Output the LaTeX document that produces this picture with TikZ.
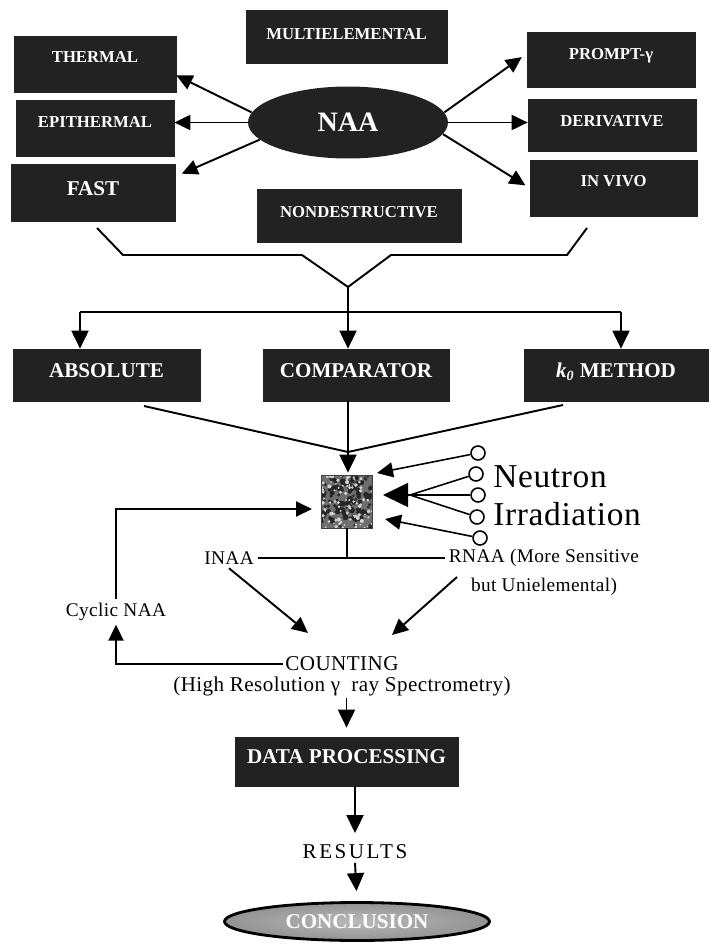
\documentclass[tikz,border=0pt]{standalone}
\usepackage{fontspec}
\setmainfont{Liberation Serif}
\newfontfamily\spaced[LetterSpace=2]{Liberation Serif}
\newfontfamily\widespaced[LetterSpace=12]{Liberation Serif}
\usepackage{xcolor}
\usepackage{tikz}
\usetikzlibrary{arrows.meta,shapes.geometric}
\definecolor{BoxInk}{HTML}{222222}
\definecolor{Grain}{HTML}{6e6e6e}

\tikzset{%
  tagbox/.style={draw=BoxInk, fill=BoxInk, text=white, inner sep=0pt, font=\fontsize{9.5}{11}\selectfont\bfseries, text height=0.2cm, text depth=0.2cm},%
  bigbox/.style={tagbox, font=\fontsize{12}{14}\selectfont\bfseries, text height=0.28cm, text depth=0.2cm},%
  plaintext/.style={inner sep=2pt, font=\spaced\fontsize{11}{16.5}\selectfont},%
  wire/.style={line width=1.1pt},%
  arr/.style={wire, -{Triangle[length=0.32cm,width=0.3cm]}},%
  downarr/.style={wire, -{Triangle[length=0.36cm,width=0.34cm]}},%
  bigarr/.style={line width=0.9pt, -{Triangle[length=0.5cm,width=0.48cm]}},%
  nsource/.style={circle, draw, line width=0.9pt, minimum size=0.28cm, inner sep=0pt},%
}

\begin{document}
\begin{tikzpicture}[x=0.02cm, y=-0.02cm]%
\useasboundingbox (0,0) rectangle (710,949);%
% kinds of NAA
\node[tagbox, minimum width=3.24cm, minimum height=1.12cm, text depth=0.24cm] (thermal) at (95,64) {THERMAL};%
\node[tagbox, minimum width=3.16cm, minimum height=1.12cm] (epithermal) at (95,128) {EPITHERMAL};%
\node[bigbox, minimum width=3.28cm, minimum height=1.14cm, text depth=0.16cm] (fast) at (93,192.5) {FAST};%
\node[tagbox, minimum width=4.02cm, minimum height=1.06cm, text depth=0.08cm] (multi) at (346.5,36.5) {MULTIELEMENTAL};%
\node[tagbox, minimum width=4.08cm, minimum height=1.06cm, text depth=0.12cm] (nondest) at (359,215.5) {NONDESTRUCTIVE};%
\node[ellipse, fill=BoxInk, text=white, minimum width=4cm, minimum height=1.44cm, font=\fontsize{16}{18}\selectfont\bfseries] (naa) at (348,122.5) {NAA};%
\node[tagbox, minimum width=3.36cm, minimum height=1.1cm] (prompt) at (611,59.5) {PROMPT-γ};%
\node[tagbox, minimum width=3.36cm, minimum height=1.04cm, text depth=0.12cm] (derivative) at (612,125) {DERIVATIVE};%
\node[tagbox, minimum width=3.34cm, minimum height=1.12cm, text depth=0.24cm] (invivo) at (613.5,188) {IN VIVO};%
\draw[arr] (naa.174) -- (thermal.-8);%
\draw[arr] (naa.west) -- (naa.west -| epithermal.east);%
\draw[arr, shorten >=0.14cm] (naa.191) -- (fast.11);%
\draw[arr, shorten >=0.12cm] (naa.6) -- (prompt.176);%
\draw[arr] (naa.east) -- (naa.east -| derivative.west);%
\draw[arr, shorten >=0.1cm] (naa.-7) -- (invivo.west);%
% bracket and split
\coordinate (brl) at (97,228);%
\coordinate (brr) at (587,228);%
\coordinate (fork) at (348,287);%
\coordinate (split) at (348,312);%
\coordinate (dl) at (80,312);%
\coordinate (dr) at (621,312);%
\draw[wire] (brl) -- (123,255) -- (302,255) -- (fork);%
\draw[wire] (brr) -- (567,255) -- (391,255) -- (fork);%
\draw[wire] (fork) -- (split);%
\draw[wire] (dl) -- (dr);%
% methods
\node[bigbox, minimum width=3.74cm, minimum height=1.04cm] (absolute) at (106.5,375) {ABSOLUTE};%
\node[bigbox, minimum width=3.72cm, minimum height=1.04cm] (comparator) at (356,375) {COMPARATOR};%
\node[bigbox, minimum width=3.68cm, minimum height=1.04cm] (kzero) at (616,375) {\textit{k}\textsubscript{\textit{0}} METHOD};%
\draw[downarr] (dl) -- (dl |- absolute.north);%
\draw[downarr] (split) -- (split |- comparator.north);%
\draw[downarr] (dr) -- (dr |- kzero.north);%
% sample
\node[minimum width=1cm, minimum height=1.04cm, inner sep=0pt] (sample) at (347,502) {};%
\begin{scope}
\clip (sample.south west) rectangle (sample.north east);%
\fill[Grain] (sample.south west) rectangle (sample.north east);%
\pgfmathsetseed{11}%
\foreach \k in {1,...,110} {%
  \pgfmathsetmacro{\gx}{322+50*rnd}%
  \pgfmathsetmacro{\gy}{476+52*rnd}%
  \pgfmathsetmacro{\gs}{0.6+1.3*rnd}%
  \fill[black!85] (\gx,\gy) circle (\gs pt);%
}%
\foreach \k in {1,...,90} {%
  \pgfmathsetmacro{\gx}{322+50*rnd}%
  \pgfmathsetmacro{\gy}{476+52*rnd}%
  \pgfmathsetmacro{\gs}{0.4+0.8*rnd}%
  \fill[gray!35] (\gx,\gy) circle (\gs pt);%
}%
\end{scope}
\draw[black!75, line width=0.8pt] (sample.south west) rectangle (sample.north east);%
\coordinate (absout) at (144,406);%
\coordinate (kout) at (563,405);%
\coordinate (meet) at (348,452);%
\draw[wire] (absout) -- (meet) -- (kout);%
\draw[downarr, shorten >=0.06cm] (split |- comparator.south) -- (sample.north -| split);%
% neutron sources
\node[nsource] (n1) at (478,453) {};%
\node[nsource] (n2) at (476,474) {};%
\node[nsource] (n3) at (478,495) {};%
\node[nsource] (n4) at (477,517) {};%
\node[nsource] (n5) at (480,538) {};%
\node[anchor=west, inner sep=0pt, font=\spaced\fontsize{19}{21}\selectfont] (neutron) at (493,477) {Neutron};%
\node[anchor=west, inner sep=0pt, font=\spaced\fontsize{19}{21}\selectfont] (irrad) at (493,514) {Irradiation};%
\coordinate (hit1) at (377,473);%
\coordinate (hit2) at (383,495);%
\coordinate (fan) at (410,495);%
\coordinate (hit3) at (385,519);%
\draw[arr, line width=0.9pt] (n1) -- (hit1);%
\draw[bigarr] (n3) -- (hit2);%
\draw[line width=0.9pt] (n2) -- (fan);%
\draw[line width=0.9pt] (n4) -- (fan);%
\draw[arr, line width=0.9pt] (n5) -- (hit3);%
% INAA / RNAA
\node[plaintext] (inaa) at (229,558) {INAA};%
\node[plaintext, align=center] (rnaa) at (544,572.5) {RNAA (More Sensitive\\but Unielemental)};%
\draw[wire] (inaa.east) -- (inaa.east -| rnaa.west);%
\draw[wire] (sample.south) -- (sample.south |- inaa.east);%
\coordinate (rout) at (457,577);%
\coordinate (cin1) at (308,633);%
\coordinate (cin2) at (392,635);%
\draw[arr] (inaa.south) -- (cin1);%
\draw[arr] (rout) -- (cin2);%
% counting
\node[plaintext, inner sep=1pt, font=\spaced\fontsize{12}{14}\selectfont] (counting) at (342,664) {COUNTING};%
\node[plaintext, inner sep=1pt, font=\spaced\fontsize{12}{14}\selectfont] (spectro) at (342,686) {(High Resolution γ~ ray Spectrometry)};%
\node[plaintext] (cyclic) at (116,612) {Cyclic NAA};%
\coordinate (loopin) at (312,509);%
\draw[arr] (cyclic.north) |- (loopin);%
\draw[arr] (counting.west) -| (cyclic.south);%
% processing
\node[bigbox, minimum width=4.46cm, minimum height=0.98cm, text depth=0.22cm] (dataproc) at (346.5,761.5) {DATA PROCESSING};%
\node[plaintext, font=\widespaced\fontsize{12}{14}\selectfont] (results) at (355,852) {RESULTS};%
\node[ellipse, draw=black, line width=1.6pt, inner color=gray!55, outer color=gray!85, minimum width=5.3cm, minimum height=0.76cm, inner sep=1pt, text=white, font=\fontsize{12}{14}\selectfont\bfseries] (conclusion) at (357,921.5) {CONCLUSION};%
\draw[downarr, shorten >=0.18cm] (dataproc.north |- spectro.south) -- (dataproc.north);%
\draw[downarr, shorten >=0.16cm] (dataproc.south -| results.north) -- (results.north);%
\draw[downarr, shorten >=0.2cm] (results.south) -- (conclusion.north);%
\end{tikzpicture}
\end{document}
